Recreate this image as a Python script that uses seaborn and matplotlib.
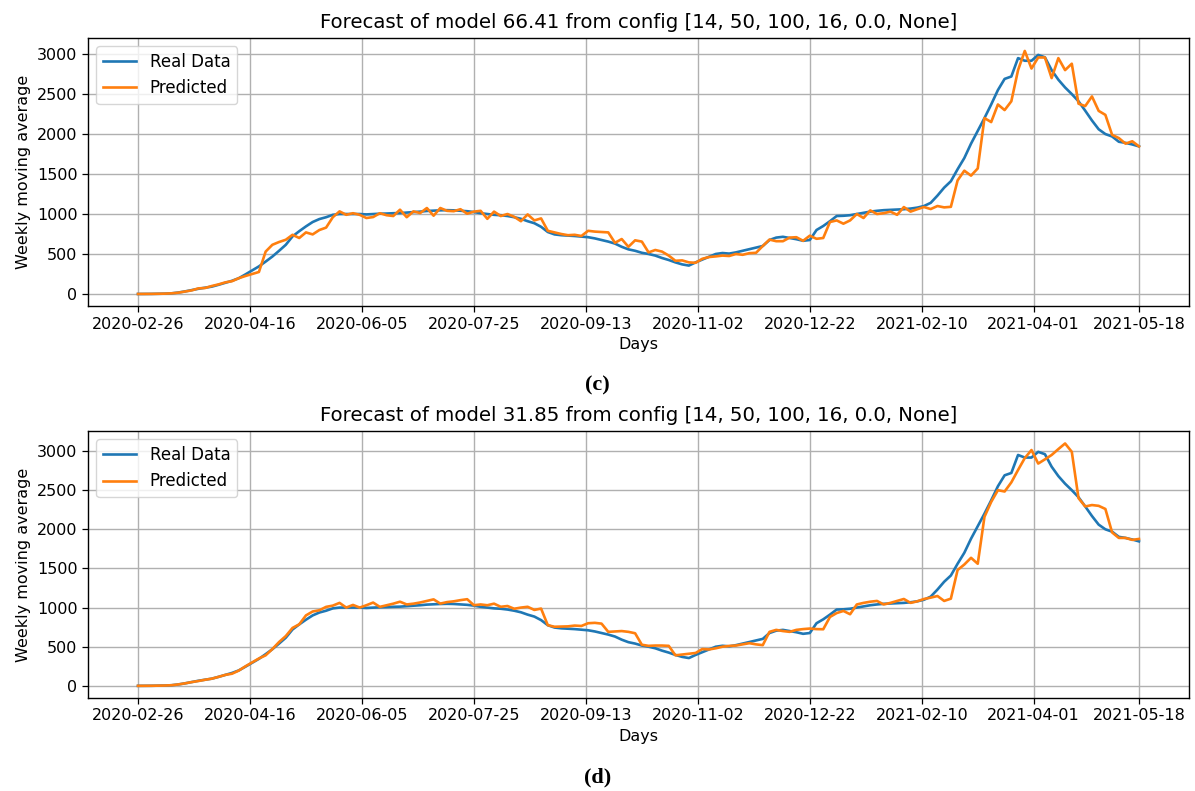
import numpy as np
import pandas as pd
import matplotlib
matplotlib.use("Agg")
import matplotlib.pyplot as plt
import seaborn as sns

# ---------------- data (sampled every 3 days, 2020-02-26 .. 2021-05-18) ----------------
start_date = "2020-02-26"
step_days = 3

real_data = [
    0, 0, 1, 2, 4, 8, 18, 32, 48, 65,
    78, 92, 115, 140, 165, 197, 245, 295, 345, 405,
    468, 540, 615, 720, 785, 845, 900, 937, 960, 990,
    1000, 1000, 1000, 1000, 995, 1000, 1004, 1006, 1010, 1012,
    1018, 1025, 1030, 1038, 1042, 1046, 1048, 1046, 1040, 1035,
    1025, 1010, 1000, 990, 985, 975, 960, 940, 910, 885,
    840, 775, 745, 735, 730, 725, 718, 710, 695, 675,
    655, 630, 590, 558, 540, 515, 500, 480, 450, 425,
    395, 370, 355, 395, 430, 465, 500, 512, 505, 520,
    540, 560, 580, 600, 675, 705, 715, 700, 685, 665,
    675, 800, 850, 910, 975, 978, 985, 1000, 1015, 1030,
    1040, 1048, 1052, 1055, 1060, 1068, 1080, 1100, 1140, 1230,
    1330, 1410, 1560, 1700, 1880, 2040, 2200, 2370, 2550, 2690,
    2720, 2950, 2917, 2917, 2990, 2960, 2800, 2680, 2583, 2500,
    2410, 2292, 2170, 2060, 2000, 1970, 1904, 1890, 1870, 1846,
]

predicted_c = [
    0, 0, 1, 2, 4, 8, 16, 30, 45, 70,
    75, 100, 120, 145, 160, 197, 225, 250, 275, 530,
    615, 650, 678, 740, 700, 770, 745, 800, 830, 960,
    1033, 990, 1010, 990, 950, 962, 1010, 985, 975, 1054,
    960, 1033, 1012, 1075, 979, 1075, 1040, 1035, 1060, 1004,
    1030, 1040, 940, 1030, 975, 1000, 965, 910, 995, 920,
    945, 790, 770, 750, 735, 740, 725, 790, 780, 775,
    770, 640, 687, 590, 671, 655, 520, 550, 530, 480,
    415, 420, 395, 390, 440, 462, 470, 480, 475, 500,
    490, 510, 515, 600, 680, 660, 660, 705, 710, 665,
    729, 690, 700, 900, 920, 879, 920, 1000, 950, 1045,
    1000, 1010, 1030, 990, 1087, 1030, 1060, 1087, 1062, 1100,
    1083, 1090, 1420, 1542, 1480, 1570, 2200, 2150, 2370, 2300,
    2410, 2800, 3040, 2820, 2958, 2958, 2700, 2950, 2800, 2880,
    2380, 2350, 2471, 2290, 2240, 1990, 1950, 1880, 1910, 1846,
]

predicted_d = [
    0, 0, 1, 2, 4, 8, 18, 32, 48, 62,
    78, 92, 115, 140, 155, 195, 250, 300, 350, 390,
    470, 560, 636, 740, 786, 900, 950, 966, 1009, 1025,
    1060, 1000, 1034, 1000, 1030, 1064, 1009, 1030, 1050, 1075,
    1040, 1050, 1065, 1085, 1105, 1051, 1070, 1080, 1095, 1107,
    1030, 1040, 1030, 1050, 1010, 1020, 985, 1000, 1010, 970,
    987, 775, 755, 757, 760, 770, 765, 800, 805, 795,
    690, 695, 700, 690, 672, 525, 511, 515, 515, 511,
    390, 400, 410, 420, 470, 465, 480, 500, 510, 515,
    530, 545, 530, 520, 690, 715, 700, 690, 715, 725,
    732, 725, 723, 880, 930, 957, 915, 1040, 1060, 1075,
    1085, 1040, 1060, 1085, 1110, 1060, 1080, 1110, 1127, 1148,
    1085, 1114, 1480, 1550, 1636, 1560, 2160, 2350, 2500, 2483,
    2600, 2758, 2910, 3013, 2840, 2894, 2950, 3025, 3097, 2990,
    2398, 2292, 2310, 2300, 2260, 1960, 1890, 1890, 1865, 1877,
]

tick_labels = ["2020-02-26", "2020-04-16", "2020-06-05", "2020-07-25", "2020-09-13",
               "2020-11-02", "2020-12-22", "2021-02-10", "2021-04-01", "2021-05-18"]

titles = ["Forecast of model 66.41 from config [14, 50, 100, 16, 0.0, None]",
          "Forecast of model 31.85 from config [14, 50, 100, 16, 0.0, None]"]
panel_labels = ["(c)", "(d)"]
y_ticks = [0, 500, 1000, 1500, 2000, 2500, 3000]

# ---------------- figure ----------------
dates = pd.date_range(start_date, periods=len(real_data), freq=f"{step_days}D")

fig = plt.figure(figsize=(11.95, 7.91), dpi=100)
ax_positions = [
    [0.0736, 0.613, 0.9214, 0.339],
    [0.0736, 0.1176, 0.9214, 0.3374],
]
ylims = [(-152, 3202), (-155, 3255)]
label_y = [0.513, 0.0177]

FS = 11.5
for i, pred in enumerate([predicted_c, predicted_d]):
    ax = fig.add_axes(ax_positions[i])
    df = pd.DataFrame({"date": dates, "Real Data": real_data, "Predicted": pred})
    sns.lineplot(data=df, x="date", y="Real Data", ax=ax, color="#1f77b4",
                 linewidth=1.9, label="Real Data")
    sns.lineplot(data=df, x="date", y="Predicted", ax=ax, color="#ff7f0e",
                 linewidth=1.9, label="Predicted")
    ax.set_ylim(*ylims[i])
    ax.set_yticks(y_ticks)
    tick_dates = pd.to_datetime(tick_labels)
    ax.set_xticks(tick_dates)
    ax.set_xticklabels(tick_labels)
    ax.tick_params(labelsize=FS, length=4, width=0.9)
    ax.grid(True, color="#b0b0b0", linewidth=1.0)
    ax.set_axisbelow(True)
    ax.set_xlabel("Days", fontsize=FS)
    ax.set_ylabel("Weekly moving average", fontsize=FS)
    ax.set_title(titles[i], fontsize=14.2, pad=7)
    for s in ax.spines.values():
        s.set_linewidth(1.0)
        s.set_color("black")
    ax.legend(loc="upper left", fontsize=12, frameon=True, fancybox=True,
              framealpha=0.8, edgecolor="#cccccc")
    fig.text(0.5, label_y[i], panel_labels[i], ha="center", va="center",
             fontsize=16, fontweight="bold", family=["Liberation Serif", "DejaVu Serif"])

fig.savefig("out.png", dpi=100)
